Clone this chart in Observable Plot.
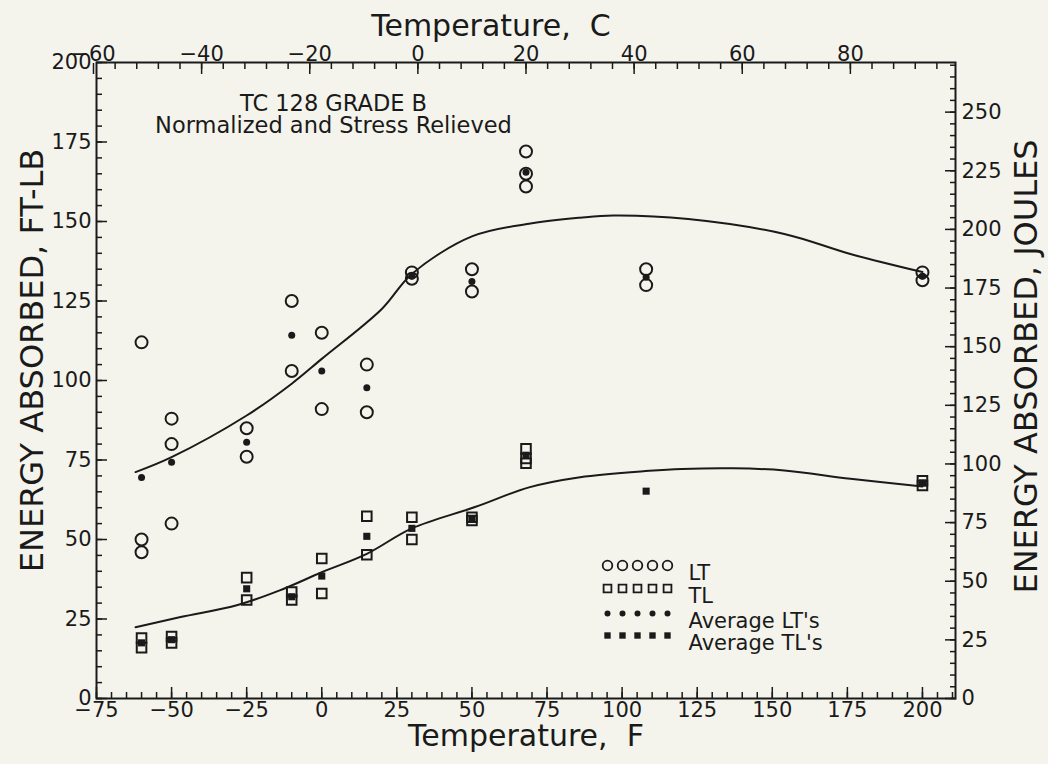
<!DOCTYPE html>
<html><head><meta charset="utf-8">
<script src="https://cdn.jsdelivr.net/npm/d3@7"></script>
<script src="https://cdn.jsdelivr.net/npm/@observablehq/plot@0.6"></script>
<style>
html,body{margin:0;padding:0;background:#f4f4ec;}
#chart{width:1048px;height:764px;}
g[aria-label="title-left"] text{letter-spacing:2px;}
</style></head><body><div id="chart"></div>
<script>
// ---- data ----
const ltTemp   = [-60,-60,-60,-50,-50,-50,-25,-25,-10,-10,0,0,15,15,30,30,50,50,68,68,68,108,108,200,200];
const ltEnergy = [112,50,46,88,80,55,85,76,125,103,115,91,105,90,134,132,135,128,172,165,161,135,130,134,131.5];
const ltAvgTemp   = [-60,-50,-25,-10,0,15,30,50,68,108,200];
const ltAvgEnergy = [69.5,74.3,80.6,114.2,103,97.7,132.8,131.1,165.5,132.5,132.8];
const tlTemp   = [-60,-60,-50,-50,-25,-25,-10,-10,0,0,15,15,30,30,50,50,68,68,68,200,200];
const tlEnergy = [19,16,19.5,17.5,38,31,33.5,31,44,33,57.3,45.2,57,50,57,56,78.5,75.5,74,68.5,67];
const tlAvgTemp   = [-60,-50,-25,-10,0,15,30,50,68,108,200];
const tlAvgEnergy = [17.5,18.5,34.5,32,38.5,51,53.5,56.5,76.5,65.2,67.8];
const ltCurveTemp   = [-62,-50,-25,-10,0,20,30,50,69,86,97,122,154,176,200];
const ltCurveEnergy = [71.2,75.9,89,99,106.8,122.5,133.5,145.3,149.3,151.2,151.9,150.8,146.1,139.8,134.1];
const tlCurveTemp   = [-62,-47,-28,-14,0,15,30,51,69,86,109,120,137,154,176,200];
const tlCurveEnergy = [22.4,25.6,29.4,34,39.7,45.5,53.5,60.2,66.4,69.6,71.6,72.2,72.4,71.7,69.1,66.7];
const fMajor = [-75,-50,-25,0,25,50,75,100,125,150,175,200];
const fMinor = d3.range(-75, 211, 5);
const cMajor = [-60,-40,-20,0,20,40,60,80];
const cMinor = d3.range(-56, 99, 4);
const ftlbMajor = [0,25,50,75,100,125,150,175,200];
const ftlbMinor = d3.range(0, 201, 5);
const jouleMajor = [0,25,50,75,100,125,150,175,200,225,250];
const jouleMinor = d3.range(0, 271, 5);
const titleLines = ["TC 128 GRADE B", "Normalized and Stress Relieved"];
const legendLabels = ["LT", "TL", "Average LT's", "Average TL's"];
const axisTitles = {bottom: "Temperature,\u00a0 F", top: "Temperature,\u00a0 C", left: "ENERGY ABSORBED, FT-LB", right: "ENERGY ABSORBED, JOULES"};

const J = 1.3558;
const fToC = f => Math.round((f - 32) / 1.8);
const cToF = c => c * 1.8 + 32;
const fmt = v => (v < 0 ? "\u2212" + Math.abs(v) : String(v));

const FONT = '"DejaVu Sans", Lato, sans-serif';
const INK = "#1a1a1a";

const pts = (xs, ys) => xs.map((x, i) => ({x, y: ys[i]}));

const marks = [
  Plot.frame({stroke: INK, strokeWidth: 2}),
  // bottom F axis
  Plot.axisX({anchor: "bottom", ticks: fMinor, tickSize: -6, fill: "none", label: null, stroke: INK, strokeWidth: 1.5}),
  Plot.axisX({anchor: "bottom", ticks: fMajor, tickSize: -11, fill: "none", label: null, stroke: INK, strokeWidth: 1.5}),
  Plot.axisX({anchor: "bottom", ticks: fMajor, tickSize: 0, tickPadding: 4, tickFormat: fmt, label: null, fontSize: 21, fill: INK}),
  // top C axis
  Plot.axisX({anchor: "top", ticks: cMinor.map(cToF), tickSize: -6, fill: "none", label: null, stroke: INK, strokeWidth: 1.5}),
  Plot.axisX({anchor: "top", ticks: cMajor.map(cToF), tickSize: -11, fill: "none", label: null, stroke: INK, strokeWidth: 1.5}),
  Plot.axisX({anchor: "top", ticks: cMajor.map(cToF), tickSize: 0, tickPadding: 2, tickFormat: d => fmt(fToC(d)), label: null, fontSize: 21, fill: INK}),
  // left ft-lb axis
  Plot.axisY({anchor: "left", ticks: ftlbMinor, tickSize: -6, fill: "none", label: null, stroke: INK, strokeWidth: 1.5}),
  Plot.axisY({anchor: "left", ticks: ftlbMajor, tickSize: -11, fill: "none", label: null, stroke: INK, strokeWidth: 1.5}),
  Plot.axisY({anchor: "left", ticks: ftlbMajor, tickSize: 0, tickPadding: 5, tickFormat: fmt, label: null, fontSize: 21, fill: INK}),
  // right joule axis
  Plot.axisY({anchor: "right", ticks: jouleMinor.map(j => j / J), tickSize: -6, fill: "none", label: null, stroke: INK, strokeWidth: 1.5}),
  Plot.axisY({anchor: "right", ticks: jouleMajor.map(j => j / J), tickSize: -11, fill: "none", label: null, stroke: INK, strokeWidth: 1.5}),
  Plot.axisY({anchor: "right", ticks: jouleMajor.map(j => j / J), tickSize: 0, tickPadding: 6, tickFormat: d => String(Math.round(d * J)), label: null, fontSize: 21, fill: INK}),
  // axis titles
  Plot.text([axisTitles.bottom], {text: d => d, frameAnchor: "bottom", dy: 47, fontSize: 30, fill: INK}),
  Plot.text([axisTitles.top], {text: d => d, frameAnchor: "top", dx: -35, dy: -48, fontSize: 30, fill: INK}),
  Plot.text([axisTitles.left], {text: d => d, frameAnchor: "left", textAnchor: "middle", dx: -64, dy: -20, rotate: -90, fontSize: 32, fill: INK, ariaLabel: "title-left"}),
  Plot.text([axisTitles.right], {text: d => d, frameAnchor: "right", textAnchor: "middle", dx: 71, dy: -14, rotate: -90, fontSize: 32, fill: INK, ariaLabel: "title-right"}),
  // annotation
  Plot.text([titleLines[0]], {text: d => d, frameAnchor: "top-left", textAnchor: "middle", dx: 237, dy: 33, fontSize: 22.5, fill: INK}),
  Plot.text([titleLines[1]], {text: d => d, frameAnchor: "top-left", textAnchor: "middle", dx: 237, dy: 55, fontSize: 22.5, fill: INK}),
  // curves
  Plot.line(pts(ltCurveTemp, ltCurveEnergy), {x: "x", y: "y", curve: "catmull-rom", stroke: INK, strokeWidth: 2}),
  Plot.line(pts(tlCurveTemp, tlCurveEnergy), {x: "x", y: "y", curve: "catmull-rom", stroke: INK, strokeWidth: 2}),
  // points
  Plot.dot(pts(ltTemp, ltEnergy), {x: "x", y: "y", r: 6, stroke: INK, strokeWidth: 2, fill: "none"}),
  Plot.dot(pts(tlTemp, tlEnergy), {x: "x", y: "y", r: 5.4, symbol: "square", stroke: INK, strokeWidth: 2, fill: "none"}),
  Plot.dot(pts(ltAvgTemp, ltAvgEnergy), {x: "x", y: "y", r: 3.5, fill: INK, stroke: "none"}),
  Plot.dot(pts(tlAvgTemp, tlAvgEnergy), {x: "x", y: "y", r: 4, symbol: "square", fill: INK, stroke: "none"}),
];

// legend
const legendDy = [503, 526, 551, 573];
legendLabels.forEach((lab, i) => {
  marks.push(Plot.text([lab], {text: d => d, frameAnchor: "top-left", dx: 592, dy: legendDy[i], textAnchor: "start", fontSize: 21, fill: INK}));
  for (let k = 0; k < 5; k++) {
    const o = {frameAnchor: "top-left", dx: 511 + k * 15, dy: legendDy[i]};
    if (i === 0) marks.push(Plot.dot([lab], {...o, r: 4.8, stroke: INK, strokeWidth: 1.8, fill: "none"}));
    if (i === 1) marks.push(Plot.dot([lab], {...o, r: 4.4, symbol: "square", stroke: INK, strokeWidth: 1.8, fill: "none"}));
    if (i === 2) marks.push(Plot.dot([lab], {...o, r: 3, fill: INK, stroke: "none"}));
    if (i === 3) marks.push(Plot.dot([lab], {...o, r: 3.6, symbol: "square", fill: INK, stroke: "none"}));
  }
});

const chart = Plot.plot({
  width: 1048, height: 764,
  marginLeft: 96, marginRight: 93, marginTop: 62, marginBottom: 66,
  style: {background: "#f4f4ec", fontFamily: FONT, color: INK, overflow: "visible"},
  x: {domain: [-75, 211]},
  y: {domain: [0, 200]},
  marks
});
document.getElementById("chart").append(chart);
</script>
</body></html>
